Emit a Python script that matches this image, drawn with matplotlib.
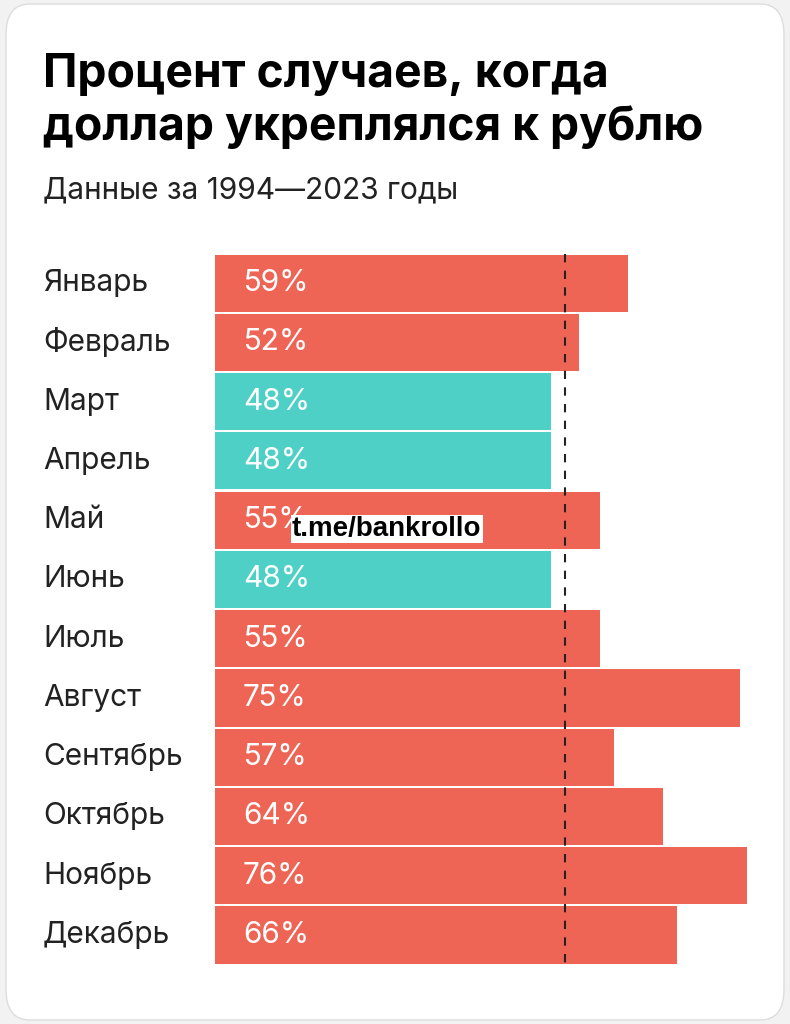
import matplotlib.pyplot as plt
from matplotlib.patches import FancyBboxPatch

months = ["Январь","Февраль","Март","Апрель","Май","Июнь","Июль","Август","Сентябрь","Октябрь","Ноябрь","Декабрь"]
values = [59,52,48,48,55,48,55,75,57,64,76,66]
threshold = 50
red = "#EF6555"
teal = "#4FD0C6"

W, H = 790, 1024
fig = plt.figure(figsize=(W/100, H/100), dpi=100)
fig.patch.set_facecolor("#F2F2F2")
card = FancyBboxPatch((6/W, 4/H), (W-12)/W, (H-8)/H, boxstyle="round,pad=0,rounding_size=0.03",
                      transform=fig.transFigure, facecolor="white", edgecolor="#DDDDDD", lw=1, zorder=-10)
fig.patches.append(card)

fam = "Inter"
fig.text(43/W, 1-75/H, "Процент случаев, когда", fontsize=33.3, fontweight="bold", family=fam, va="center")
fig.text(43/W, 1-128/H, "доллар укреплялся к рублю", fontsize=33.3, fontweight="bold", family=fam, va="center")
fig.text(43/W, 1-190/H, "Данные за 1994—2023 годы", fontsize=21.5, family=fam, va="center", color="#222222")

top, bot = 253.5, 964.6
ax = fig.add_axes([215/W, 1-bot/H, 550/W, (bot-top)/H], zorder=1)
ax.set_xlim(0, 550/7)
ax.set_ylim(11.5, -0.5)
ax.axis("off")
colors = [red if v > threshold else teal for v in values]
ax.barh(range(len(months)), values, height=0.965, color=colors)
for i, (m, v) in enumerate(zip(months, values)):
    ax.text(4, i, f"{v}%", color="white", fontsize=21.5, family=fam, va="center")
    ax.text(-172/7, i, m, color="#222222", fontsize=21.5, family=fam, va="center")
ax.plot([threshold, threshold], [-0.5, 11.5], color="#222222", lw=1.5, ls=(0, (4, 4)), clip_on=False)
ax.text(11, 4.15, "t.me/bankrollo", fontsize=20, fontweight="bold", family="Liberation Sans", va="center",
        color="black", bbox=dict(facecolor="white", edgecolor="none", pad=1))
fig.savefig("out.png", dpi=100, facecolor=fig.get_facecolor())
